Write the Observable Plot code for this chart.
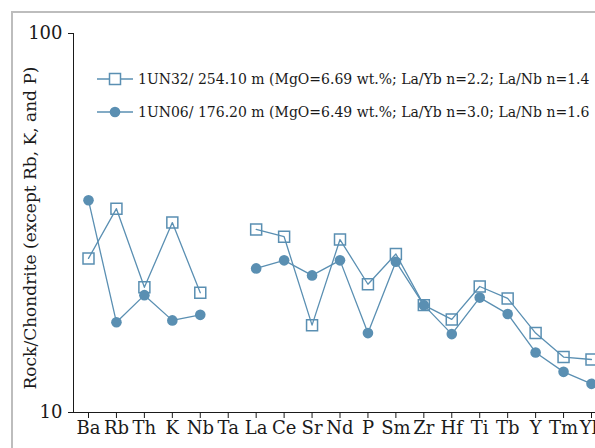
<!DOCTYPE html>
<html>
<head>
<meta charset="utf-8">
<script src="https://cdn.jsdelivr.net/npm/d3@7"></script>
<script src="https://cdn.jsdelivr.net/npm/@observablehq/plot@0.6"></script>
<style>
  html, body { margin: 0; padding: 0; background: #fff; overflow: hidden; }
  #wrap { position: relative; width: 595px; height: 448px; overflow: hidden; font-family: "DejaVu Serif", serif; }
  #frame { position: absolute; left: 11px; top: 11px; width: 700px; height: 600px;
           border-left: 2px solid #bdbdbd; border-top: 2px solid #bdbdbd; }
  #chart { position: absolute; left: 0; top: 0; }
  #legend { position: absolute; left: 96px; top: 62px; font-size: 14px; color: #1a1a1a; }
  .row { display: flex; align-items: center; height: 33px; white-space: nowrap; }
  .row svg { margin-right: 4px; }
</style>
</head>
<body>
<div id="wrap">
  <div id="frame"></div>
  <div id="chart"></div>
  <div id="legend"></div>
</div>
<script>
// Chondrite-normalised multi-element pattern for two samples
const elements = ["Ba", "Rb", "Th", "K", "Nb", "Ta", "La", "Ce", "Sr", "Nd", "P", "Sm", "Zr", "Hf", "Ti", "Tb", "Y", "Tm", "Yb"];
const un32 = [25.5, 34.5, 21.4, 31.7, 20.7, null, 30.4, 29.1, 17.0, 28.6, 21.8, 26.2, 19.2, 17.6, 21.5, 20.0, 16.2, 14.0, 13.8];
const un06 = [36.3, 17.3, 20.4, 17.5, 18.1, null, 24.0, 25.2, 23.0, 25.2, 16.2, 25.0, 19.2, 16.1, 20.1, 18.2, 14.4, 12.8, 11.9];
const sampleNames = [
  "1UN32/ 254.10 m (MgO=6.69 wt.%; La/Yb n=2.2; La/Nb n=1.4",
  "1UN06/ 176.20 m (MgO=6.49 wt.%; La/Yb n=3.0; La/Nb n=1.6"
];
const yTicks = [10, 100];
const yLabel = "Rock/Chondrite (except Rb, K, and P)";
const color = "#5a8fb2";

const rows32 = elements.map((e, i) => ({element: e, value: un32[i]}));
const rows06 = elements.map((e, i) => ({element: e, value: un06[i]}));

// The plot runs past the right edge of the box; the wrapper clips it.
const chart = Plot.plot({
  width: 606,
  height: 448,
  marginLeft: 73,
  marginRight: 0,
  marginTop: 33,
  marginBottom: 36,
  style: {fontFamily: "DejaVu Serif, serif", fontSize: "16px", background: "transparent", color: "#1a1a1a", overflow: "visible", maxWidth: "none"},
  x: {type: "point", domain: elements, range: [88, 591], padding: 0, round: false, label: null},
  y: {type: "log", domain: [10, 100], label: null},
  marks: [
    Plot.frame({anchor: "left", stroke: "#1a1a1a", strokeOpacity: 1}),
    Plot.frame({anchor: "bottom", stroke: "#1a1a1a", strokeOpacity: 1}),
    Plot.axisX({tickSize: 6, tickPadding: 3, fontSize: 18, label: null}),
    Plot.axisY({ticks: yTicks, tickFormat: d => String(d), tickSize: 5, tickPadding: 6, fontSize: 18, label: null}),
    Plot.text([yLabel], {frameAnchor: "left", text: d => d, rotate: -90, textAnchor: "middle", dx: -43, dy: 5, fontSize: 17}),
    Plot.line(rows32, {x: "element", y: "value", stroke: color, strokeWidth: 1.3}),
    Plot.line(rows06, {x: "element", y: "value", stroke: color, strokeWidth: 1.3}),
    Plot.dot(rows32, {x: "element", y: "value", symbol: "square", r: 6.2, stroke: color, strokeWidth: 1.5, fill: "none"}),
    Plot.dot(rows06, {x: "element", y: "value", r: 5.3, fill: color, stroke: "none"})
  ]
});
document.getElementById("chart").appendChild(chart);

// Legend rows: line swatch with the sample's marker, then its label
const legend = d3.select("#legend");
sampleNames.forEach((name, i) => {
  const row = legend.append("div").attr("class", "row");
  const sw = row.append("svg").attr("width", 38).attr("height", 16);
  sw.append("line").attr("x1", 1).attr("x2", 37).attr("y1", 8).attr("y2", 8)
    .attr("stroke", color).attr("stroke-width", 1.3);
  if (i === 0) {
    sw.append("rect").attr("x", 13.5).attr("y", 2.5).attr("width", 11).attr("height", 11)
      .attr("fill", "#fff").attr("stroke", color).attr("stroke-width", 1.5);
  } else {
    sw.append("circle").attr("cx", 19).attr("cy", 8).attr("r", 5.3).attr("fill", color);
  }
  row.append("span").text(name);
});
</script>
</body>
</html>
